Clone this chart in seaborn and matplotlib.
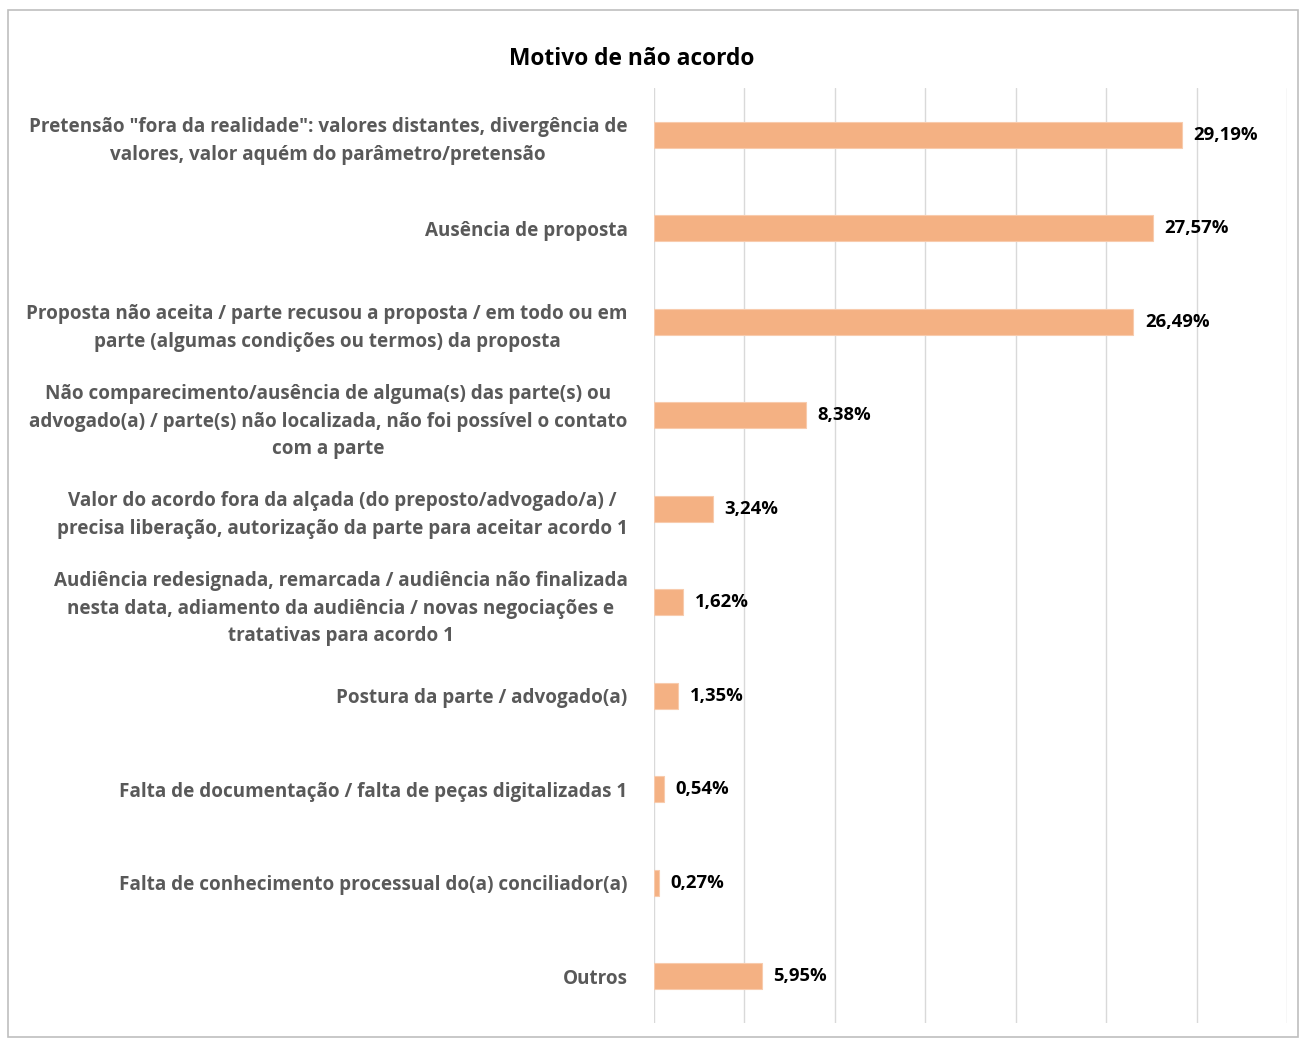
import matplotlib
matplotlib.use("Agg")
import matplotlib.pyplot as plt
import seaborn as sns
import pandas as pd
from matplotlib.patches import Rectangle

categories = [
    'Pretensão "fora da realidade": valores distantes, divergência de\nvalores, valor aquém do parâmetro/pretensão',
    'Ausência de proposta',
    'Proposta não aceita / parte recusou a proposta / em todo ou em\nparte (algumas condições ou termos) da proposta',
    'Não comparecimento/ausência de alguma(s) das parte(s) ou\nadvogado(a) / parte(s) não localizada, não foi possível o contato\ncom a parte',
    'Valor do acordo fora da alçada (do preposto/advogado/a) /\nprecisa liberação, autorização da parte para aceitar acordo 1',
    'Audiência redesignada, remarcada / audiência não finalizada\nnesta data, adiamento da audiência / novas negociações e\ntratativas para acordo 1',
    'Postura da parte / advogado(a)',
    'Falta de documentação / falta de peças digitalizadas 1',
    'Falta de conhecimento processual do(a) conciliador(a)',
    'Outros',
]
values = [29.19, 27.57, 26.49, 8.38, 3.24, 1.62, 1.35, 0.54, 0.27, 5.95]
value_labels = ["29,19%", "27,57%", "26,49%", "8,38%", "3,24%", "1,62%", "1,35%", "0,54%", "0,27%", "5,95%"]
title = "Motivo de não acordo"

df = pd.DataFrame({"cat": categories, "val": values})

sns.set_theme(style="white")
plt.rcParams['font.family'] = ['Open Sans', 'DejaVu Sans']

fig = plt.figure(figsize=(12.99, 10.39), dpi=100)
ax = fig.add_axes([654/1299, 1 - 1023/1039, (1287-654)/1299, (1023-88)/1039])

sns.barplot(data=df, y="cat", x="val", orient="h", color="#F4B183",
            saturation=1, width=0.28, edgecolor="#F8CBAD", linewidth=0.8, ax=ax)

ax.set_xlim(0, 35)
ax.set_xticks(range(0, 36, 5))
ax.xaxis.grid(True, color="#D9D9D9", linewidth=1)
ax.set_axisbelow(True)
ax.tick_params(axis="x", length=0, labelbottom=False)
ax.tick_params(axis="y", length=0, pad=19)
for s in ax.spines.values():
    s.set_visible(False)
ax.set_xlabel("")
ax.set_ylabel("")

for t in ax.get_yticklabels():
    t.set_multialignment("center")
    t.set_fontsize(13.6)
    t.set_fontweight("bold")
    t.set_color("#595959")
    t.set_linespacing(1.52)

for i, (v, lab) in enumerate(zip(values, value_labels)):
    ax.annotate(lab, xy=(v, i), xytext=(8.5, 0), textcoords="offset points",
                va="center", ha="left", fontsize=13.3, fontweight="bold", color="black")

fig.text(632/1299, 1 - 59/1039, title, ha="center", va="center",
         fontsize=16.4, fontweight="bold", color="black")

fig.patches.append(Rectangle((8/1299, 0.002), 1 - 9/1299, 1 - 10/1039 - 0.002,
                             transform=fig.transFigure, fill=False,
                             edgecolor="#BFBFBF", linewidth=1.2))

fig.savefig("out.png", dpi=100, facecolor="white")
